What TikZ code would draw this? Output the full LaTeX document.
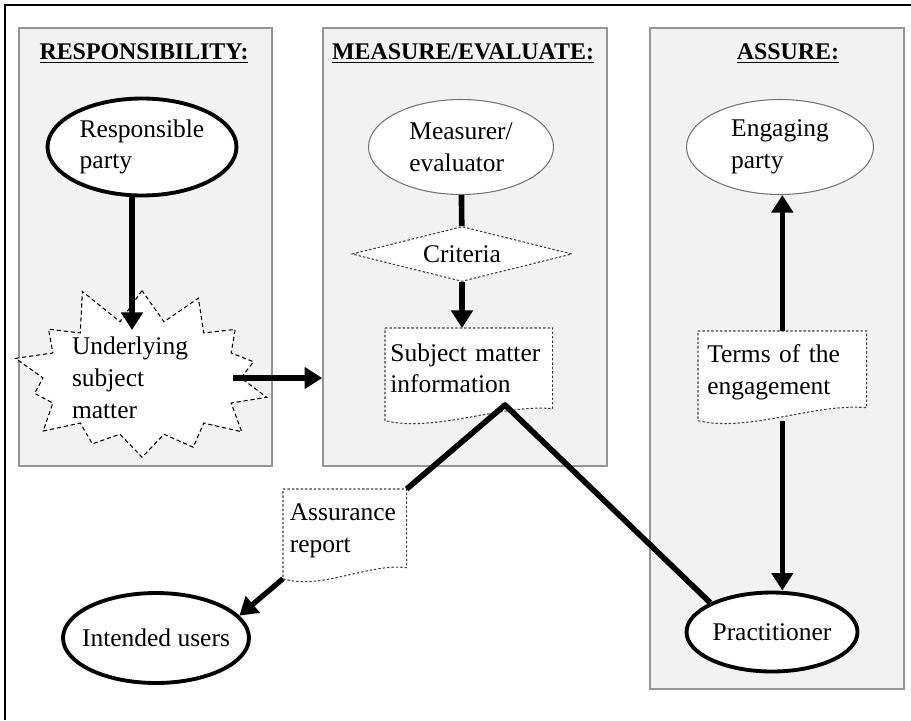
\documentclass[tikz,border=0pt]{standalone}
\usepackage{fontspec}
\setmainfont{Liberation Serif}
\usetikzlibrary{shapes.geometric,shapes.symbols,arrows.meta,calc,backgrounds}
\pgfdeclarelayer{docs}
\pgfsetlayers{background,docs,main}
\definecolor{panelfill}{HTML}{F2F2F2}
\definecolor{paneledge}{HTML}{959595}
\tikzset{
  panel/.style={draw=paneledge,line width=1pt,fill=panelfill},
  heading/.style={font=\fontsize{13.6}{15}\selectfont\bfseries},
  txt/.style={font=\fontsize{14.5}{18.1}\selectfont,align=left},
  partyoval/.style={txt,ellipse,draw,line width=2.2pt,fill=white,inner sep=0pt},
  plainoval/.style={txt,ellipse,draw=black!55,line width=.6pt,fill=white,inner sep=0pt},
  docbox/.style={txt,anchor=north west,inner sep=0pt,text depth=.88cm},
  docline/.style={draw=black!75,line width=.6pt,dash pattern=on 1.4pt off 1.1pt,fill=white},
  flow/.style={line width=3pt,-{Triangle[length=10pt,width=12pt]}},
  link/.style={line width=3.2pt,line join=round},
}
\begin{document}
\begin{tikzpicture}[x=0.02cm,y=-0.02cm]
\useasboundingbox (0,0) rectangle (911,720);
\draw[line width=1.7pt] (5,720) -- (5,5) -- (911,5);
%
\begin{pgfonlayer}{background}
\node[panel,minimum width=5.06cm,minimum height=8.76cm] (respbox) at (145.5,247) {};
\node[panel,minimum width=5.68cm,minimum height=8.76cm] (measbox) at (465,247) {};
\node[panel,minimum width=5.08cm,minimum height=13.22cm] (assurebox) at (777,358.5) {};
\end{pgfonlayer}
%
\node[heading] (resphead) at (144,54) {\underline{RESPONSIBILITY:}};
\node[heading] (meashead) at (463,54) {\underline{MEASURE/EVALUATE:}};
\node[heading] (assurehead) at (788,54) {\underline{ASSURE:}};
%
\node[partyoval,minimum width=3.78cm,minimum height=1.94cm] (resp) at (142,147) {Responsible\\party};
\node[txt,starburst,starburst points=14,starburst point height=.8cm,random starburst=11,
  draw,fill=white,line width=.6pt,dash pattern=on 2.4pt off 1.6pt,inner sep=0pt,text width=2.8cm,
  minimum width=4.8cm,minimum height=3.7cm] (matter) at (142,378) {Underlying\\subject\\matter};
%
\node[plainoval,minimum width=3.7cm,minimum height=1.9cm] (measurer) at (461,147) {Measurer/\\evaluator};
\node[txt,diamond,shape aspect=4,inner sep=0pt,draw=black!75,fill=white,line width=.6pt,
  dash pattern=on 1.4pt off 1.1pt,minimum width=4.4cm,minimum height=1.1cm] (criteria) at (462,254) {Criteria};
\node[docbox,minimum width=3.34cm,minimum height=1.84cm,text width=3.14cm] (smi) at (385,328) {Subject matter\\information};
%
\node[plainoval,minimum width=3.74cm,minimum height=1.9cm] (engaging) at (780,147) {Engaging\\party};
\node[docbox,minimum width=3.36cm,minimum height=1.78cm,text width=3cm] (terms) at (698,331) {Terms of the\\engagement};
\node[partyoval,minimum width=3.42cm,minimum height=1.58cm] (practitioner) at (772,632) {Practitioner};
%
\node[docbox,minimum width=2.46cm,minimum height=1.78cm,text width=2.2cm] (report) at (283,489) {Assurance\\report};
\node[partyoval,minimum width=3.72cm,minimum height=1.8cm,inner xsep=-5pt] (users) at (156,638) {Intended users};
%
\begin{pgfonlayer}{docs}
\foreach \d/\r in {smi/12,terms/13,report/11}
  \path[docline] (\d.north west) -- (\d.north east) -- ($(\d.south east)+(0,-\r)$)
    .. controls ($(\d.south east)!.3!(\d.south west)+(0,-\r-5)$) and ($(\d.south east)!.7!(\d.south west)+(0,12)$) .. (\d.south west) -- cycle;
\end{pgfonlayer}
%
\draw[flow] ($(resp.south)+(-10,0)$) -- ($(matter.center)+(-10,-48)$);
\draw[flow] ($(matter.center)+(91,0)$) -- (measbox.west |- matter.center);
\draw[link] (measurer) -- (criteria);
\draw[flow] (criteria.south) -- (criteria.south |- smi.north);
\draw[flow] (terms.north) -- (terms.north |- engaging.south);
\draw[flow] (terms.south) -- (terms.south |- practitioner.north);
\coordinate (peak) at (505,405);
\draw[link] (report.north east) -- (peak) -- (practitioner.north west);
\draw[flow] (report.south west) -- (users.15);
%
\end{tikzpicture}
\end{document}
